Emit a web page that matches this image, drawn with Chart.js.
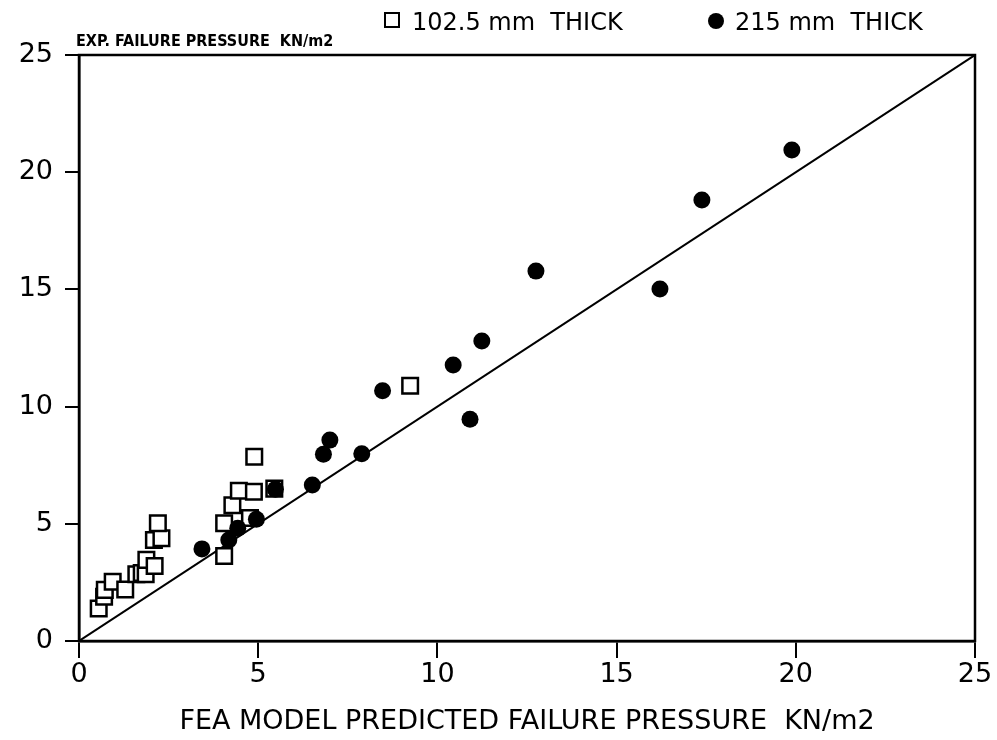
<!DOCTYPE html>
<html>
<head>
<meta charset="utf-8">
<script src="https://cdn.jsdelivr.net/npm/chart.js@4"></script>
<style>
  html, body { margin: 0; padding: 0; background: #fff; }
  #wrap { width: 997px; height: 740px; }
</style>
</head>
<body>
<div id="wrap"><canvas id="myChart"></canvas></div>
<script>
// 102.5 mm thick walls
const thinX = [0.55, 0.70, 0.72, 0.94, 1.29, 1.60, 1.75, 1.86, 1.88, 2.11, 2.09, 2.30, 2.20, 4.05, 4.05, 4.28, 4.46, 4.88, 4.77, 4.89, 5.45, 9.24];
const thinY = [1.39, 1.89, 2.18, 2.53, 2.20, 2.85, 2.90, 2.85, 3.46, 3.20, 4.31, 4.38, 5.02, 3.63, 5.02, 5.79, 6.41, 6.37, 5.25, 7.86, 6.50, 10.89];
// 215 mm thick walls
const thickX = [3.43, 4.18, 4.43, 4.95, 5.48, 6.51, 6.82, 7.00, 7.89, 8.47, 10.44, 10.91, 11.24, 12.75, 16.21, 17.38, 19.89];
const thickY = [3.93, 4.31, 4.81, 5.19, 6.47, 6.66, 7.97, 8.57, 7.99, 10.68, 11.77, 9.46, 12.80, 15.78, 15.02, 18.81, 20.95];
const lineXY = [0, 25];
const tickStep = 5;
const seriesNames = ['102.5 mm  THICK', '215 mm  THICK'];

const fontFam = "'DejaVu Sans', sans-serif";

const pts = (xs, ys) => xs.map((x, i) => ({x: x, y: ys[i]}));

// frame, legend and y caption
const framePlugin = {
    id: 'frame',
    afterDraw(chart) {
        const a = chart.chartArea;
        const c = chart.ctx;
        c.save();
        c.strokeStyle = '#000';
        c.fillStyle = '#000';
        c.lineWidth = 2.5;
        c.strokeRect(a.left, a.top, a.right - a.left, a.bottom - a.top);

        // legend
        c.lineWidth = 2;
        c.strokeRect(385, 13, 14, 14);
        c.beginPath();
        c.arc(716, 21, 8, 0, Math.PI * 2);
        c.fill();
        c.font = "24px " + fontFam;
        c.textBaseline = 'alphabetic';
        c.fillText(seriesNames[0], 412, 30);
        c.fillText(seriesNames[1], 735, 30);

        // y caption
        c.font = "bold 16px 'DejaVu Sans Condensed', " + fontFam;
        c.fillText('EXP. FAILURE PRESSURE  KN/m2', 76, 46);
        c.restore();
    }
};

const ctx = document.getElementById('myChart').getContext('2d');
const myChart = new Chart(ctx, {
    type: 'scatter',
    data: {
        datasets: [{
            label: seriesNames[0],
            data: pts(thinX, thinY),
            pointStyle: 'rect',
            pointRadius: 11,
            backgroundColor: '#fff',
            borderColor: '#000',
            borderWidth: 2.5,
            order: 2
        }, {
            label: seriesNames[1],
            data: pts(thickX, thickY),
            pointStyle: 'circle',
            pointRadius: 8.5,
            backgroundColor: '#000',
            borderColor: '#000',
            borderWidth: 0,
            order: 1
        }, {
            type: 'line',
            label: 'line',
            data: pts(lineXY, lineXY),
            borderColor: '#000',
            borderWidth: 2,
            pointRadius: 0,
            order: 3
        }]
    },
    options: {
        responsive: true,
        maintainAspectRatio: false,
        animation: false,
        layout: { padding: { top: 55, right: 22, left: 0, bottom: 0 } },
        plugins: {
            tooltip: { enabled: false },
            legend: { display: false }
        },
        scales: {
            x: {
                type: 'linear',
                min: 0, max: 25,
                afterFit: (s) => { s.height = 99; },
                ticks: { stepSize: tickStep, color: '#000', padding: 1, font: { family: fontFam, size: 27 } },
                grid: { drawOnChartArea: false, color: '#000', lineWidth: 2, tickLength: 17 },
                border: { color: '#000', width: 2.5 },
                title: { display: true, text: 'FEA MODEL PREDICTED FAILURE PRESSURE  KN/m2', color: '#000', font: { family: fontFam, size: 27 }, padding: { top: 2, bottom: 2 } }
            },
            y: {
                type: 'linear',
                min: 0, max: 25,
                afterFit: (s) => { s.width = 79; },
                ticks: { stepSize: tickStep, color: '#000', padding: 12, font: { family: fontFam, size: 27 } },
                grid: { drawOnChartArea: false, color: '#000', lineWidth: 2, tickLength: 14 },
                border: { color: '#000', width: 2.5 }
            }
        }
    },
    plugins: [framePlugin]
});
</script>
</body>
</html>
